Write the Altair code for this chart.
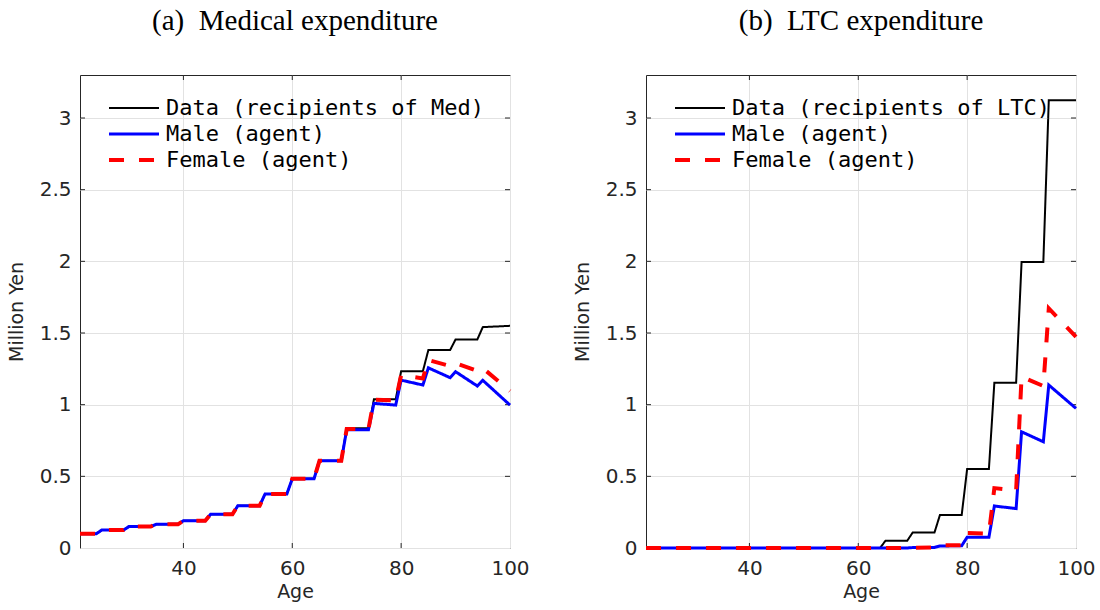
import altair as alt
import pandas as pd

# Ages at which the series are read (5-year bins: start and end of each bin)
ages = [21, 24, 25, 29, 30, 34, 35, 39, 40, 44, 45, 49, 50, 54, 55, 59,
        60, 64, 65, 69, 70, 74, 75, 79, 80, 84, 85, 89, 90, 94, 95, 100]

# (a) Medical expenditure (million yen)
med_data = [0.100, 0.100, 0.125, 0.125, 0.150, 0.150, 0.165, 0.165,
            0.190, 0.190, 0.235, 0.235, 0.295, 0.295, 0.377, 0.377,
            0.483, 0.483, 0.609, 0.609, 0.835, 0.835, 1.037, 1.037,
            1.234, 1.234, 1.381, 1.381, 1.455, 1.455, 1.541, 1.550]
med_male = [0.100, 0.100, 0.125, 0.125, 0.150, 0.150, 0.165, 0.165,
            0.190, 0.190, 0.235, 0.235, 0.295, 0.295, 0.377, 0.377,
            0.483, 0.483, 0.609, 0.609, 0.825, 0.825, 1.009, 0.997,
            1.171, 1.137, 1.257, 1.188, 1.230, 1.130, 1.170, 0.997]
med_female = [0.100, 0.100, 0.125, 0.125, 0.150, 0.150, 0.165, 0.165,
              0.190, 0.190, 0.235, 0.235, 0.295, 0.295, 0.377, 0.377,
              0.483, 0.483, 0.609, 0.609, 0.830, 0.830, 1.035, 1.030,
              1.206, 1.183, 1.311, 1.269, 1.290, 1.235, 1.255, 1.095]

# (b) LTC expenditure (million yen)
ltc_data = [0.0, 0.0, 0.0, 0.0, 0.0, 0.0, 0.0, 0.0,
            0.0, 0.0, 0.0, 0.0, 0.0, 0.0, 0.0, 0.0,
            0.0, 0.0, 0.051, 0.051, 0.108, 0.108, 0.230, 0.230,
            0.551, 0.551, 1.153, 1.153, 1.995, 1.995, 3.124, 3.124]
ltc_male = [0.0, 0.0, 0.0, 0.0, 0.0, 0.0, 0.0, 0.0,
            0.0, 0.0, 0.0, 0.0, 0.0, 0.0, 0.0, 0.0,
            0.0, 0.0, 0.0, 0.0, 0.003, 0.004, 0.014, 0.016,
            0.075, 0.075, 0.293, 0.275, 0.811, 0.741, 1.137, 0.974]
ltc_female = [0.0, 0.0, 0.0, 0.0, 0.0, 0.0, 0.0, 0.0,
              0.0, 0.0, 0.0, 0.0, 0.0, 0.0, 0.0, 0.0,
              0.0, 0.0, 0.0, 0.0, 0.002, 0.004, 0.018, 0.020,
              0.104, 0.100, 0.418, 0.402, 1.195, 1.130, 1.671, 1.473]

med_names = ["Data (recipients of Med)", "Male (agent)", "Female (agent)"]
ltc_names = ["Data (recipients of LTC)", "Male (agent)", "Female (agent)"]

x_ticks = [40, 60, 80, 100]
x_inner_ticks = [40, 60, 80]
y_ticks = [0, 0.5, 1, 1.5, 2, 2.5, 3]
y_inner_ticks = [0.5, 1, 1.5, 2, 2.5, 3]

colors = ["#000000", "#0000ff", "#ff0000"]
dashes = [[1, 0], [1, 0], [15, 15]]
widths = [2, 4, 4]

W, H = 430, 473
AX = "#262626"


def panel(title, names, series):
    rows = []
    for name, vals in zip(names, series):
        for a, v in zip(ages, vals):
            rows.append({"series": name, "age": a, "value": v})
    df = pd.DataFrame(rows)

    legend = alt.Legend(
        orient="none", legendX=27, legendY=22, title=None,
        symbolType="stroke", symbolSize=2500, clipHeight=22,
        rowPadding=4, labelOffset=5, padding=0,
        labelFont="DejaVu Sans Mono", labelFontSize=22, labelColor="#000000",
        labelLimit=600,
    )
    xenc = alt.X("age:Q", scale=alt.Scale(domain=[21, 100], nice=False, zero=False),
                 axis=alt.Axis(values=x_ticks, title="Age"))
    yenc = alt.Y("value:Q", scale=alt.Scale(domain=[0, 3.3], nice=False),
                 axis=alt.Axis(values=y_ticks, title="Million Yen", format="~g"))

    layers = []
    for n in names:
        layers.append(
            alt.Chart(df).transform_filter(alt.datum.series == n).mark_line().encode(
                x=xenc, y=yenc,
                color=alt.Color("series:N", scale=alt.Scale(domain=names, range=colors),
                                legend=legend, title=None),
                strokeDash=alt.StrokeDash("series:N", scale=alt.Scale(domain=names, range=dashes),
                                          legend=legend, title=None),
                strokeWidth=alt.StrokeWidth("series:N", scale=alt.Scale(domain=names, range=widths),
                                            legend=legend, title=None),
                order="age:Q",
            )
        )

    xt = pd.DataFrame({"age": x_inner_ticks})
    yt = pd.DataFrame({"value": y_inner_ticks})
    tick_bottom = alt.Chart(xt).mark_rule(color=AX, strokeWidth=1).encode(
        x="age:Q", y=alt.value(H), y2=alt.value(H - 5))
    tick_top = alt.Chart(xt).mark_rule(color=AX, strokeWidth=1).encode(
        x="age:Q", y=alt.value(0), y2=alt.value(5))
    tick_left = alt.Chart(yt).mark_rule(color=AX, strokeWidth=1).encode(
        y="value:Q", x=alt.value(0), x2=alt.value(5))
    tick_right = alt.Chart(yt).mark_rule(color=AX, strokeWidth=1).encode(
        y="value:Q", x=alt.value(W - 5), x2=alt.value(W))

    return alt.layer(tick_bottom, tick_top, tick_left, tick_right, *layers).properties(
        width=W, height=H, title=title)


left = panel("(a)\u00a0 Medical expenditure", med_names, [med_data, med_male, med_female])
right = panel("(b)\u00a0 LTC expenditure", ltc_names, [ltc_data, ltc_male, ltc_female])

chart = alt.hconcat(left, right, spacing=136, bounds="flush").resolve_scale(
    color="independent", strokeDash="independent", strokeWidth="independent"
).properties(
    padding={"left": 6, "top": 6, "right": 0, "bottom": 0},
    background="white",
).configure_view(
    stroke=AX, strokeWidth=1
).configure_axis(
    domain=False, ticks=False, grid=True, gridColor="#e2e2e2", gridWidth=1,
    labelFont="DejaVu Sans", labelFontSize=20, labelColor=AX,
    titleFont="DejaVu Sans", titleFontSize=19, titleFontWeight="normal", titleColor=AX,
).configure_axisY(
    labelPadding=9, minExtent=44, maxExtent=44, titlePadding=10,
).configure_axisX(
    labelPadding=10, titlePadding=4, labelFlush=False,
).configure_title(
    font="Liberation Serif", fontSize=29, fontWeight="normal", color="#000000",
    anchor="middle", frame="group", offset=39, baseline="alphabetic",
)

chart.save("out.html", embed_options={"renderer": "svg", "actions": False})
